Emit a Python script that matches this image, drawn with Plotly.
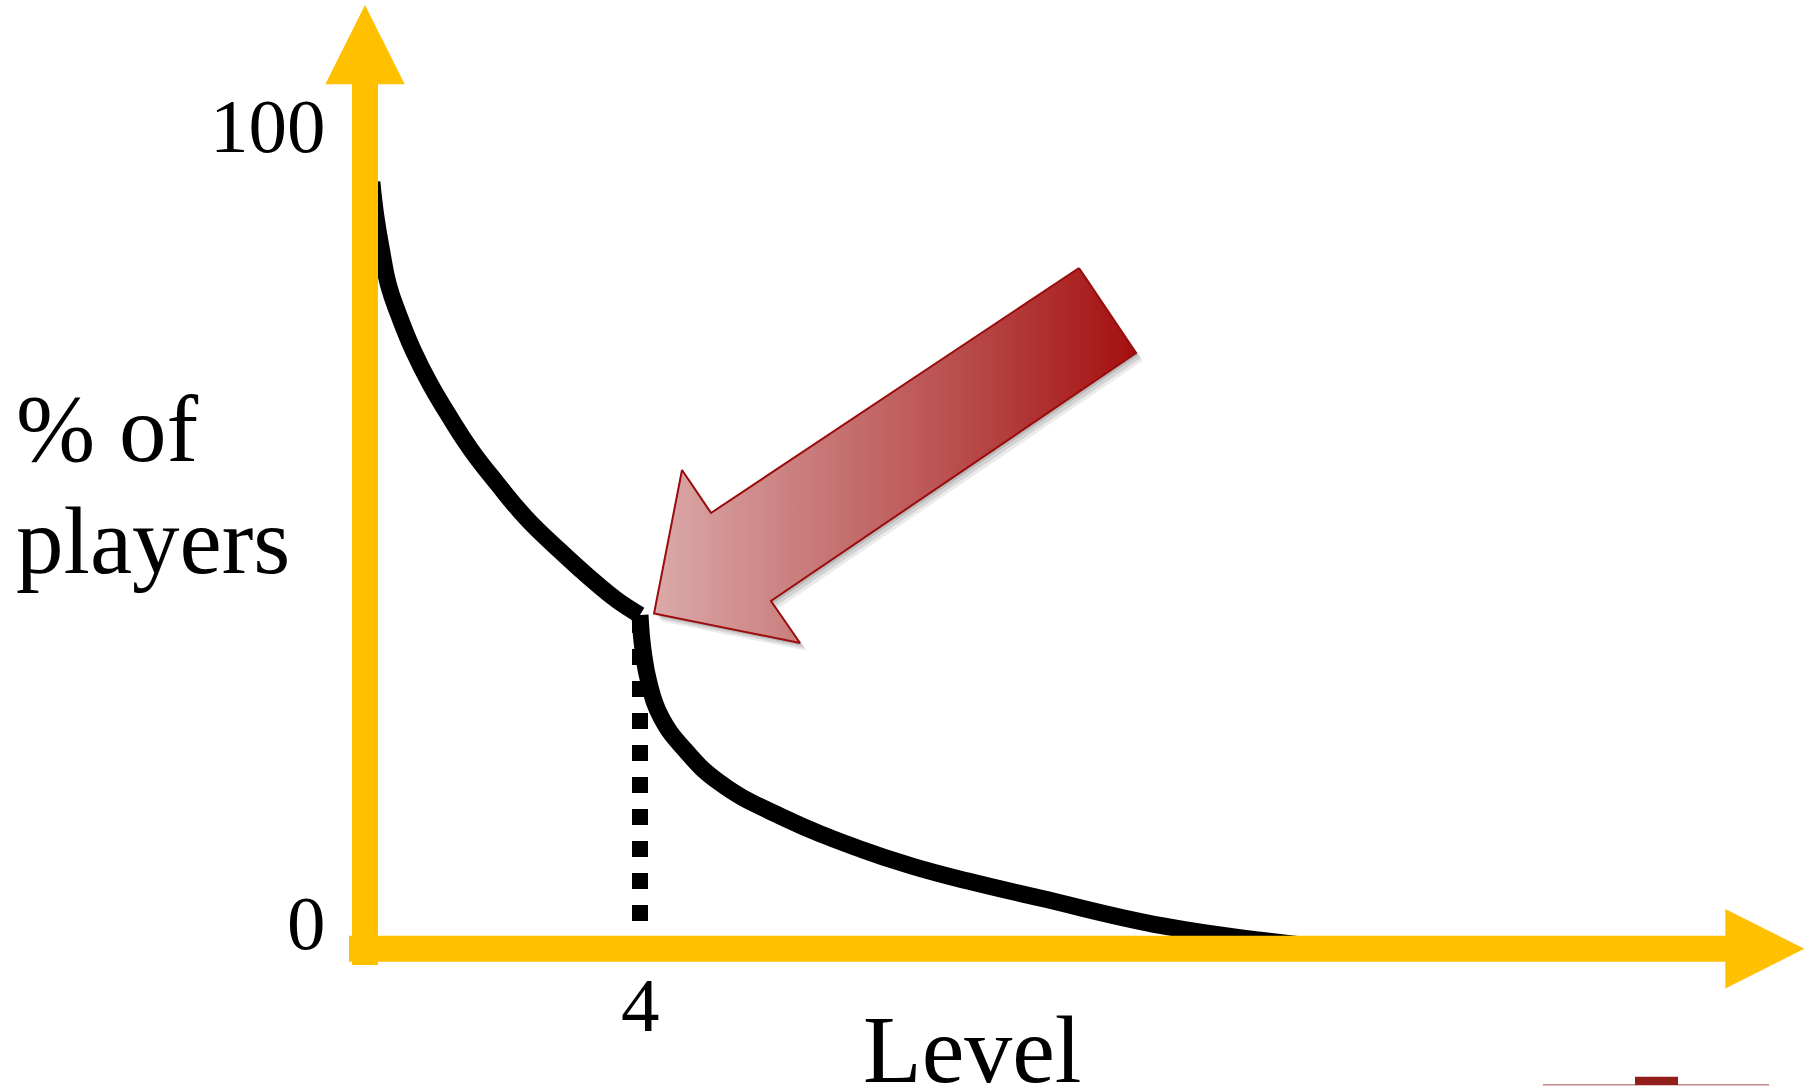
import plotly.graph_objects as go

# ---------------- data ----------------
level_before = [0.10, 0.16, 0.24, 0.34, 0.50, 0.70, 0.94, 1.23, 1.54, 1.92, 2.33, 2.82, 3.35, 3.66, 4.0]
pct_before = [93.4, 89.1, 85.1, 80.9, 77.0, 72.9, 68.9, 64.8, 60.8, 56.7, 52.6, 48.6, 44.6, 42.5, 40.65]

level_after = [4.0, 4.044, 4.131, 4.305, 4.655, 5.164, 6.036, 7.244, 7.956, 8.771, 9.818, 11.607, 13.12, 14.18]
pct_after = [40.65, 36.39, 32.37, 28.23, 24.21, 20.19, 16.17, 12.02, 10.07, 8.24, 6.17, 2.77, 0.94, 0.0]

marked_level = 4
marked_pct = 40.4

y_tick_values = [0, 100]
y_tick_labels = ["0", "100"]
x_tick_values = [4]
x_tick_labels = ["4"]

x_title = "Level"
y_title_lines = ["% of", "players"]

# ---------------- layout constants ----------------
W, H = 1816, 1090
X_RANGE = [-5.309, 21.105]
Y_RANGE = [-17.213, 115.57]
YELLOW = "#FFC000"
FONT = "Liberation Serif"

X_AXIS_START = -0.233
X_AXIS_END = 19.786     # base of x arrow head
X_AXIS_TIP = 20.935
Y_AXIS_START = -1.99
Y_AXIS_END = 105.30
Y_AXIS_TIP = 114.96
HEAD_HALF_X = 0.5775    # in levels
HEAD_HALF_Y = 4.836     # in percent

fig = go.Figure()

# curve
fig.add_trace(go.Scatter(x=level_before, y=pct_before, mode="lines",
                         line=dict(color="black", width=17, shape="spline", smoothing=1.3),
                         hoverinfo="skip", showlegend=False))
fig.add_trace(go.Scatter(x=level_after, y=pct_after, mode="lines",
                         line=dict(color="black", width=17, shape="spline", smoothing=1.3),
                         hoverinfo="skip", showlegend=False))
# dotted drop line
fig.add_trace(go.Scatter(x=[marked_level, marked_level], y=[marked_pct, 0],
                         mode="lines", line=dict(color="black", width=16, dash="dot"),
                         hoverinfo="skip", showlegend=False))

# red pointer arrow (annotation graphic)
arrow_x = [10.385, 11.215, 5.905, 6.327, 4.204, 4.611, 5.033, 10.385]
arrow_y = [82.92, 72.57, 42.36, 37.24, 40.83, 58.31, 53.08, 82.92]
for dx, dy, op in [(0.10, -0.95, 0.08), (0.07, -0.65, 0.10), (0.035, -0.32, 0.12)]:
    fig.add_trace(go.Scatter(x=[v + dx for v in arrow_x], y=[v + dy for v in arrow_y],
                             mode="lines", fill="toself", line=dict(width=0),
                             fillcolor=f"rgba(0,0,0,{op})", hoverinfo="skip", showlegend=False))
fig.add_trace(go.Scatter(x=arrow_x, y=arrow_y, mode="lines", fill="toself",
                         line=dict(color="#9b0c0c", width=2),
                         fillgradient=dict(type="horizontal",
                                           colorscale=[[0, "#dba9a9"], [0.25, "#cd8585"],
                                                       [0.6, "#bb5252"], [1, "#a50f0f"]]),
                         hoverinfo="skip", showlegend=False))

shapes = []
# yellow axes
shapes.append(dict(type="line", xref="x", yref="y", x0=0, x1=0, y0=Y_AXIS_START, y1=Y_AXIS_END + 0.3,
                   line=dict(color=YELLOW, width=26), layer="above"))
shapes.append(dict(type="line", xref="x", yref="y", x0=X_AXIS_START, x1=X_AXIS_END + 0.03, y0=0, y1=0,
                   line=dict(color=YELLOW, width=26), layer="above"))
shapes.append(dict(type="path", xref="x", yref="y",
                   path=f"M {-HEAD_HALF_X} {Y_AXIS_END} L {HEAD_HALF_X} {Y_AXIS_END} L 0 {Y_AXIS_TIP} Z",
                   fillcolor=YELLOW, line=dict(width=0), layer="above"))
shapes.append(dict(type="path", xref="x", yref="y",
                   path=f"M {X_AXIS_END} {-HEAD_HALF_Y} L {X_AXIS_END} {HEAD_HALF_Y} L {X_AXIS_TIP} 0 Z",
                   fillcolor=YELLOW, line=dict(width=0), layer="above"))
# slide footer marks
shapes.append(dict(type="line", xref="paper", yref="paper", x0=1543 / W, x1=1769 / W,
                   y0=5.3 / H, y1=5.3 / H, line=dict(color="#c48888", width=1.5)))
shapes.append(dict(type="rect", xref="paper", yref="paper", x0=1635 / W, x1=1678 / W,
                   y0=5 / H, y1=13.3 / H, fillcolor="#911e1a", line=dict(width=0)))

annotations = []
for v, t in zip(y_tick_values, y_tick_labels):
    annotations.append(dict(x=-0.54, y=(2.93 if v == 0 else v), xref="x", yref="y", text=t,
                            showarrow=False, xanchor="right", yanchor="middle", yshift=2,
                            font=dict(family=FONT, size=77, color="black")))
for v, t in zip(x_tick_values, x_tick_labels):
    annotations.append(dict(x=v, y=-7.14, xref="x", yref="y", text=t, showarrow=False,
                            xanchor="center", yanchor="middle", yshift=2,
                            font=dict(family=FONT, size=77, color="black")))
annotations.append(dict(x=8.836, y=-12.57, xref="x", yref="y", text=x_title, showarrow=False,
                        xanchor="center", yanchor="middle", yshift=2,
                        font=dict(family=FONT, size=96, color="black")))
for yv, t in zip([63.29, 49.63], y_title_lines):
    annotations.append(dict(x=-5.105, y=yv, xref="x", yref="y", text=t, showarrow=False,
                            xanchor="left", yanchor="middle", align="left",
                            font=dict(family=FONT, size=95, color="black")))

fig.update_layout(
    width=W, height=H, margin=dict(l=0, r=0, t=0, b=0, pad=0),
    paper_bgcolor="white", plot_bgcolor="white",
    xaxis=dict(range=X_RANGE, visible=False, fixedrange=True),
    yaxis=dict(range=Y_RANGE, visible=False, fixedrange=True),
    shapes=shapes, annotations=annotations, showlegend=False,
)

fig.write_html("out.html", include_plotlyjs=True, config={"displayModeBar": False},
               post_script="document.body.style.margin='0';document.body.style.overflow='hidden';")
